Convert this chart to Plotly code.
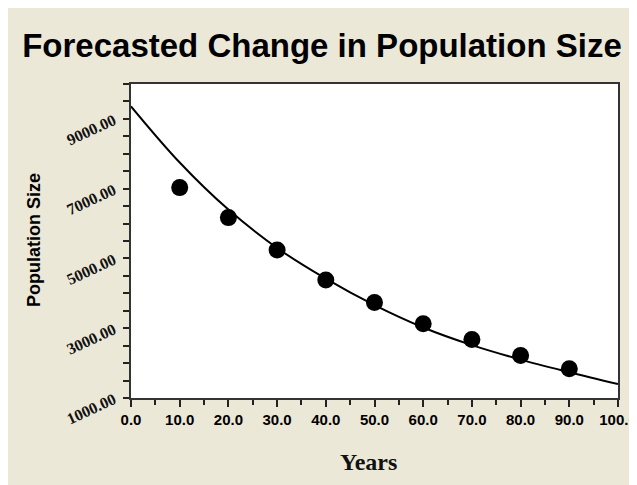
import plotly.graph_objects as go

# Data
years = [10, 20, 30, 40, 50, 60, 70, 80, 90]
population = [7030, 6170, 5240, 4380, 3740, 3130, 2680, 2220, 1840]

curve_years = [0, 10, 20, 30, 40, 50, 60, 70, 80, 90, 100]
curve_values = [9360, 7750, 6400, 5300, 4420, 3660, 3020, 2515, 2100, 1740, 1400]

x_ticks = [0, 10, 20, 30, 40, 50, 60, 70, 80, 90, 100]
x_tick_labels = ["0.0", "10.0", "20.0", "30.0", "40.0", "50.0", "60.0", "70.0", "80.0", "90.0", "100.0"]
y_ticks = [1000, 3000, 5000, 7000, 9000]
y_tick_labels = ["1000.00", "3000.00", "5000.00", "7000.00", "9000.00"]

W, H = 660, 477
L, R, T, B = 123, 50, 76, 87
pw, ph = W - L - R, H - T - B

def px_to_paper_x(px):
    return (px - L) / pw

def py_to_paper_y(py):
    return (H - B - py) / ph

BEIGE = "#EBE8D8"

fig = go.Figure()
fig.add_trace(go.Scatter(
    x=curve_years, y=curve_values, mode="lines",
    line=dict(color="black", width=2, shape="spline", smoothing=1.0),
    hoverinfo="skip", showlegend=False,
))
fig.add_trace(go.Scatter(
    x=years, y=population, mode="markers",
    marker=dict(color="black", size=17, symbol="circle"),
    showlegend=False,
))

fig.update_layout(
    width=W, height=H,
    margin=dict(l=L, r=R, t=T, b=B, autoexpand=False),
    paper_bgcolor=BEIGE,
    plot_bgcolor="white",
    showlegend=False,
    title=dict(
        text="<b>Forecasted Change in Population Size</b>",
        x=314 / W, xref="container", xanchor="center",
        y=1 - 37 / H, yref="container", yanchor="middle",
        font=dict(family="Liberation Sans, Arial, sans-serif", size=33, color="black"),
    ),
    annotations=[
        dict(text="<b>Years</b>", xref="paper", yref="paper",
             x=px_to_paper_x(360), y=py_to_paper_y(454),
             xanchor="center", yanchor="middle", showarrow=False,
             font=dict(family="Liberation Serif, Times New Roman, serif", size=24, color="#111")),
        dict(text="<b>Population Size</b>", xref="paper", yref="paper",
             x=px_to_paper_x(26), y=py_to_paper_y(232),
             xanchor="center", yanchor="middle", showarrow=False, textangle=-90,
             font=dict(family="Liberation Sans, Arial, sans-serif", size=18, color="black")),
    ],
    xaxis=dict(
        range=[0, 100], automargin=False,
        tickmode="array", tickvals=x_ticks, ticktext=x_tick_labels,
        ticks="outside", ticklen=7, tickwidth=1.5, tickcolor="#222",
        minor=dict(dtick=5, tick0=0, ticks="outside", ticklen=5, tickwidth=1.5, tickcolor="#222"),
        showgrid=False, zeroline=False,
        showline=True, linecolor="#333", linewidth=2, mirror=True,
        tickfont=dict(family="Liberation Sans, Arial, sans-serif", size=15, color="black", weight="bold"),
    ),
    yaxis=dict(
        range=[1000, 10000], automargin=False,
        tickmode="array", tickvals=y_ticks, ticktext=y_tick_labels,
        tickangle=-25, ticklabelstandoff=6,
        ticks="outside", ticklen=6, tickwidth=1.5, tickcolor="#222",
        minor=dict(dtick=500, tick0=1000, ticks="outside", ticklen=6, tickwidth=1.5, tickcolor="#222"),
        showgrid=False, zeroline=False,
        showline=True, linecolor="#333", linewidth=2, mirror=True,
        tickfont=dict(family="Liberation Serif, Times New Roman, serif", size=16, color="#111", weight="bold"),
    ),
)

fig.write_html(
    "out.html",
    post_script="document.documentElement.style.overflow='hidden';document.body.style.overflow='hidden';",
)
